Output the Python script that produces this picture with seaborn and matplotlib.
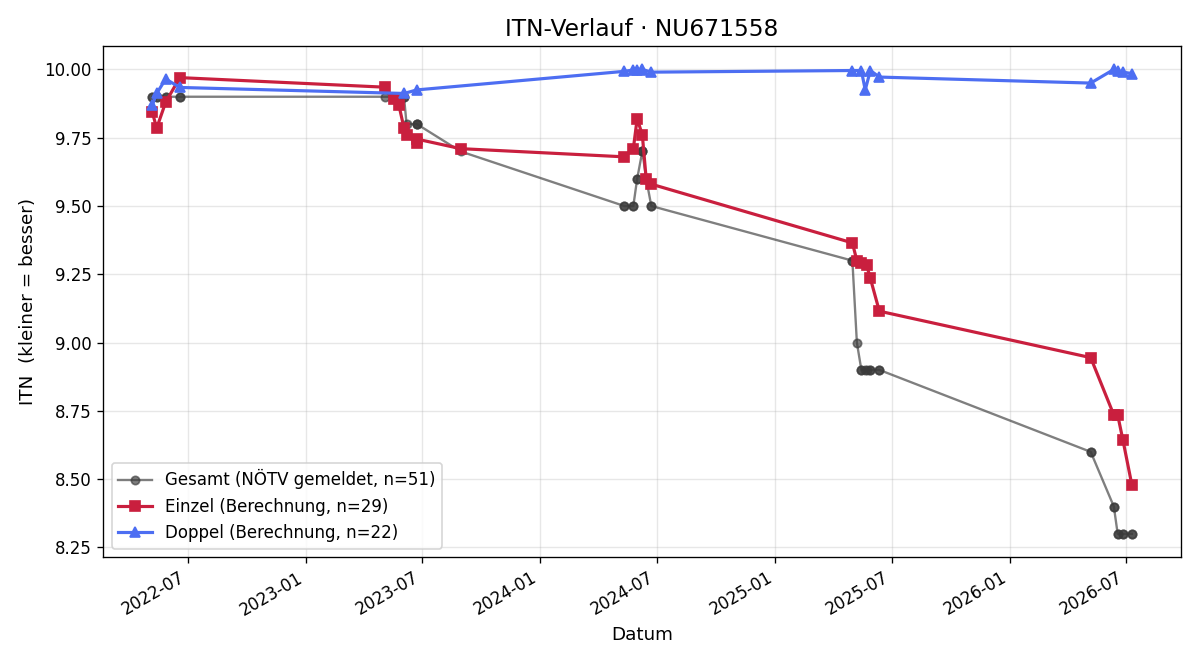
import pandas as pd
import seaborn as sns
import matplotlib
matplotlib.use("Agg")
import matplotlib.pyplot as plt
import matplotlib.dates as mdates

# Einzel (singles) calculated ITN
einzel_dates = [
    "2022-05-07", "2022-05-14", "2022-05-28", "2022-06-19",
    "2023-05-04", "2023-05-18", "2023-05-26", "2023-06-03", "2023-06-07",
    "2023-06-23", "2023-06-23", "2023-08-30",
    "2024-05-11", "2024-05-25", "2024-05-31", "2024-06-08", "2024-06-14", "2024-06-22",
    "2025-05-01", "2025-05-08", "2025-05-15", "2025-05-23", "2025-05-29", "2025-06-12",
    "2026-05-07", "2026-06-12", "2026-06-18", "2026-06-26", "2026-07-10",
]
einzel_itn = [
    9.845, 9.785, 9.88, 9.97,
    9.935, 9.89, 9.87, 9.785, 9.76,
    9.745, 9.73, 9.71,
    9.68, 9.71, 9.82, 9.76, 9.60, 9.58,
    9.365, 9.30, 9.29, 9.285, 9.235, 9.115,
    8.945, 8.735, 8.735, 8.645, 8.48,
]

# Doppel (doubles) calculated ITN
doppel_dates = [
    "2022-05-07", "2022-05-14", "2022-05-28", "2022-06-19",
    "2023-06-03", "2023-06-23",
    "2024-05-11", "2024-05-25", "2024-05-31", "2024-06-08", "2024-06-08", "2024-06-22",
    "2025-05-01", "2025-05-15", "2025-05-21", "2025-05-29", "2025-06-12",
    "2026-05-07", "2026-06-12", "2026-06-18", "2026-06-26", "2026-07-10",
]
doppel_itn = [
    9.868, 9.912, 9.965, 9.934,
    9.912, 9.925,
    9.993, 9.998, 9.998, 10.0, 9.998, 9.99,
    9.996, 9.996, 9.925, 9.996, 9.972,
    9.95, 10.0, 9.995, 9.99, 9.985,
]

# Gesamt (reported overall ITN), one entry per match
gesamt_dates = [
    "2022-05-07", "2022-05-07", "2022-05-14", "2022-05-14", "2022-05-28", "2022-05-28",
    "2022-06-19", "2022-06-19",
    "2023-05-04", "2023-05-18", "2023-05-26", "2023-06-03", "2023-06-03", "2023-06-07",
    "2023-06-23", "2023-06-23", "2023-06-23", "2023-08-30",
    "2024-05-11", "2024-05-11", "2024-05-25", "2024-05-25", "2024-05-31", "2024-05-31",
    "2024-06-08", "2024-06-08", "2024-06-08", "2024-06-14", "2024-06-22", "2024-06-22",
    "2025-05-01", "2025-05-01", "2025-05-08", "2025-05-15", "2025-05-15", "2025-05-21",
    "2025-05-23", "2025-05-29", "2025-05-29", "2025-06-12", "2025-06-12",
    "2026-05-07", "2026-05-07", "2026-06-12", "2026-06-12", "2026-06-18", "2026-06-18",
    "2026-06-26", "2026-06-26", "2026-07-10", "2026-07-10",
]
gesamt_itn = [
    9.90, 9.90, 9.90, 9.90, 9.90, 9.90,
    9.90, 9.90,
    9.90, 9.90, 9.90, 9.90, 9.90, 9.80,
    9.80, 9.80, 9.80, 9.70,
    9.50, 9.50, 9.50, 9.50, 9.60, 9.60,
    9.70, 9.70, 9.70, 9.60, 9.50, 9.50,
    9.30, 9.30, 9.00, 8.90, 8.90, 8.90,
    8.90, 8.90, 8.90, 8.90, 8.90,
    8.60, 8.60, 8.40, 8.40, 8.30, 8.30,
    8.30, 8.30, 8.30, 8.30,
]

gesamt_df = pd.DataFrame({"datum": pd.to_datetime(gesamt_dates), "itn": gesamt_itn})
einzel_df = pd.DataFrame({"datum": pd.to_datetime(einzel_dates), "itn": einzel_itn})
doppel_df = pd.DataFrame({"datum": pd.to_datetime(doppel_dates), "itn": doppel_itn})

fig, ax = plt.subplots(figsize=(10, 5.5), dpi=120)

gray = "#3a3a3a"
red = "#c91f3e"
blue = "#4d6ef2"

sns.lineplot(data=gesamt_df, x="datum", y="itn", estimator=None, ax=ax,
             color=gray, alpha=0.65, linewidth=1.4, marker="o", markersize=5,
             markeredgecolor=gray, markeredgewidth=1,
             label=f"Gesamt (NÖTV gemeldet, n={len(gesamt_itn)})")
sns.lineplot(data=einzel_df, x="datum", y="itn", estimator=None, ax=ax,
             color=red, linewidth=1.9, marker="s", markersize=6,
             markeredgecolor=red, markeredgewidth=1,
             label=f"Einzel (Berechnung, n={len(einzel_itn)})")
sns.lineplot(data=doppel_df, x="datum", y="itn", estimator=None, ax=ax,
             color=blue, linewidth=1.9, marker="^", markersize=6,
             markeredgecolor=blue, markeredgewidth=1,
             label=f"Doppel (Berechnung, n={len(doppel_itn)})")

ax.set_title("ITN-Verlauf · NU671558", fontsize=14)
ax.set_xlabel("Datum", fontsize=11)
ax.set_ylabel("ITN  (kleiner = besser)", fontsize=11)
ax.xaxis.set_major_locator(mdates.MonthLocator(bymonth=[1, 7]))
ax.xaxis.set_major_formatter(mdates.DateFormatter("%Y-%m"))
ax.set_yticks([8.25, 8.5, 8.75, 9.0, 9.25, 9.5, 9.75, 10.0])
ax.tick_params(labelsize=10)
for lbl in ax.get_xticklabels():
    lbl.set_rotation(30)
    lbl.set_ha("right")
ax.grid(True, alpha=0.3)
ax.legend(loc="lower left", fontsize=10)

plt.subplots_adjust(left=0.086, right=0.984, top=0.930, bottom=0.156)
plt.savefig("out.png", dpi=120)
plt.close()
